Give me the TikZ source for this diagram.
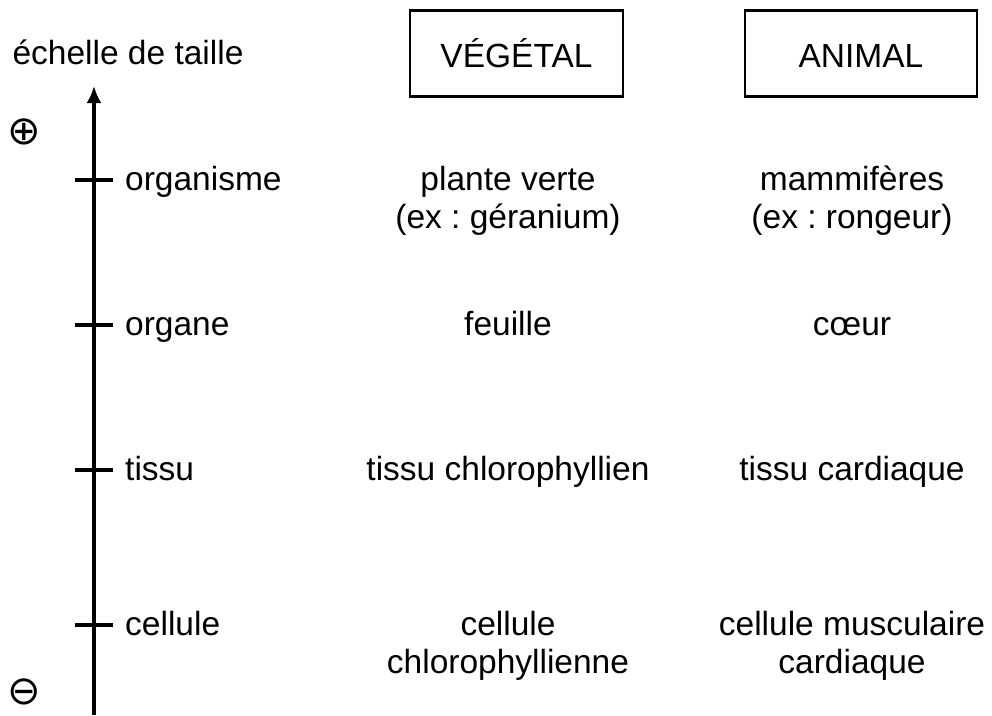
\documentclass[tikz,border=0pt]{standalone}
\usepackage{fontspec}
\setmainfont{Liberation Sans}
\newfontfamily\symfont{DejaVu Sans}
\usetikzlibrary{arrows.meta}
\frenchspacing
\begin{document}
\begin{tikzpicture}[x=1pt,y=-1pt,
  txt/.style={font=\fontsize{33.5}{38}\selectfont, inner sep=0pt, anchor=base},
  lvl/.style={txt, anchor=base west},
  hdr/.style={draw, line width=2.8pt, inner sep=0pt, text height=28pt, text depth=0pt, font=\fontsize{33.5}{38}\selectfont},
  axisline/.style={line width=3.2pt},
  tickline/.style={line width=3.2pt},
  sym/.style={font=\symfont\fontsize{40}{40}\selectfont, inner sep=0pt}]
\useasboundingbox (0,0) rectangle (992,715);

% header
\node[txt] (title) at (128,64) {échelle de taille};
\node[hdr, minimum width=213pt, minimum height=86pt] (veg) at (516.5,53.5) {VÉGÉTAL};
\node[hdr, minimum width=232pt, minimum height=86pt] (ani) at (861,53.5) {ANIMAL};

% axis
\coordinate (abot) at (94,715);
\coordinate (atop) at (94,86);
\draw[axisline, -{Latex[length=17pt,width=15pt]}] (abot) -- (atop);
\node[sym] (plus) at (24,132) {⊕};
\node[sym] (minus) at (24,692) {⊖};

% ticks
\foreach \y/\n in {180/t1,325/t2,470/t3,625/t4}{
  \coordinate (\n l) at (75,\y);
  \coordinate (\n r) at (113,\y);
  \draw[tickline] (\n l) -- (\n r);
}

% level labels
\node[lvl] (l1) at (125,190) {organisme};
\node[lvl] (l2) at (125,335) {organe};
\node[lvl] (l3) at (125,480) {tissu};
\node[lvl] (l4) at (125,635) {cellule};

% vegetal column
\node[txt] (v1a) at (508,190) {plante verte};
\node[txt] (v1b) at (508,228) {(ex : géranium)};
\node[txt] (v2) at (508,335) {feuille};
\node[txt] (v3) at (508,480) {tissu chlorophyllien};
\node[txt] (v4a) at (508,635) {cellule};
\node[txt] (v4b) at (508,673) {chlorophyllienne};

% animal column
\node[txt] (a1a) at (852,190) {mammifères};
\node[txt] (a1b) at (852,228) {(ex : rongeur)};
\node[txt] (a2) at (852,335) {cœur};
\node[txt] (a3) at (852,480) {tissu cardiaque};
\node[txt] (a4a) at (852,635) {cellule musculaire};
\node[txt] (a4b) at (852,673) {cardiaque};
\end{tikzpicture}
\end{document}
